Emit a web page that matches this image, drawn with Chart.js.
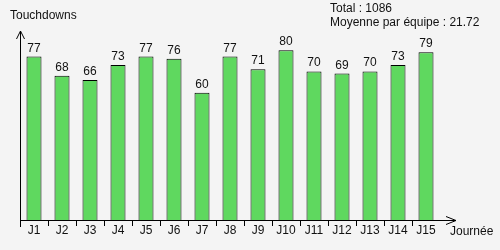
<!DOCTYPE html>
<html>
<head>
<meta charset="utf-8">
<script src="https://cdn.jsdelivr.net/npm/chart.js@4"></script>
<style>
  html, body { margin: 0; padding: 0; background: #f4f4f4; }
  #wrap { width: 500px; height: 250px; }
</style>
</head>
<body>
<div id="wrap"><canvas id="chart" width="500" height="250"></canvas></div>
<script>
// Data
const journees = ['J1', 'J2', 'J3', 'J4', 'J5', 'J6', 'J7', 'J8', 'J9', 'J10', 'J11', 'J12', 'J13', 'J14', 'J15'];
const touchdowns = [77, 68, 66, 73, 77, 76, 60, 77, 71, 80, 70, 69, 70, 73, 79];
const totalLabel = 'Total : 1086';
const moyenneLabel = 'Moyenne par équipe : 21.72';

const FONT = '12px "Liberation Sans", Arial, sans-serif';
const INK = '#111';

// axes with arrows, value labels and captions
const decor = {
  id: 'decor',
  afterDatasetsDraw(chart) {
    const ctx = chart.ctx;
    const area = chart.chartArea;
    const x0 = area.left, y0 = area.bottom;

    ctx.save();
    ctx.strokeStyle = '#000';
    ctx.lineWidth = 1;
    ctx.beginPath();
    // y axis
    ctx.moveTo(x0 + 0.5, y0 + 7);
    ctx.lineTo(x0 + 0.5, area.top + 2);
    ctx.moveTo(x0 - 3.5, area.top + 10);
    ctx.lineTo(x0 + 0.5, area.top + 2);
    ctx.lineTo(x0 + 4.5, area.top + 10);
    // x axis
    ctx.moveTo(x0, y0 + 0.5);
    ctx.lineTo(area.right + 16, y0 + 0.5);
    ctx.moveTo(area.right + 6, y0 - 3.5);
    ctx.lineTo(area.right + 16, y0 + 0.5);
    ctx.lineTo(area.right + 6, y0 + 4.5);
    ctx.stroke();

    ctx.fillStyle = INK;
    ctx.font = FONT;
    ctx.textBaseline = 'alphabetic';
    ctx.textAlign = 'center';
    chart.getDatasetMeta(0).data.forEach((bar, i) => {
      ctx.fillText(String(touchdowns[i]), bar.x, bar.y - 5);
    });

    ctx.textAlign = 'left';
    ctx.fillText('Touchdowns', 10, 19);
    ctx.fillText(totalLabel, 330, 12);
    ctx.fillText(moyenneLabel, 330, 26);
    ctx.fillText('Journée', area.right + 10, y0 + 15);
    ctx.restore();
  }
};

new Chart(document.getElementById('chart'), {
  type: 'bar',
  data: {
    labels: journees,
    datasets: [{
      data: touchdowns,
      backgroundColor: '#5fd85f',
      borderColor: '#000',
      borderWidth: 1,
      borderSkipped: 'bottom',
      barPercentage: 1,
      categoryPercentage: 15 / 28
    }]
  },
  options: {
    responsive: false,
    animation: false,
    devicePixelRatio: 1,
    layout: { padding: { left: 20, top: 29, right: 60, bottom: 0 } },
    plugins: { legend: { display: false }, tooltip: { enabled: false } },
    scales: {
      x: {
        offset: true,
        border: { display: false },
        grid: {
          drawOnChartArea: false,
          drawTicks: true,
          tickLength: 6,
          color: c => (c.type === 'tick' ? '#000' : 'rgba(0,0,0,0)')
        },
        ticks: {
          color: INK,
          padding: -3,
          maxRotation: 0,
          autoSkip: false,
          font: { family: '"Liberation Sans", Arial, sans-serif', size: 12 }
        },
        afterFit: s => { s.height = 30; }
      },
      y: {
        display: false,
        min: 0,
        max: 90
      }
    }
  },
  plugins: [decor]
});
</script>
</body>
</html>
